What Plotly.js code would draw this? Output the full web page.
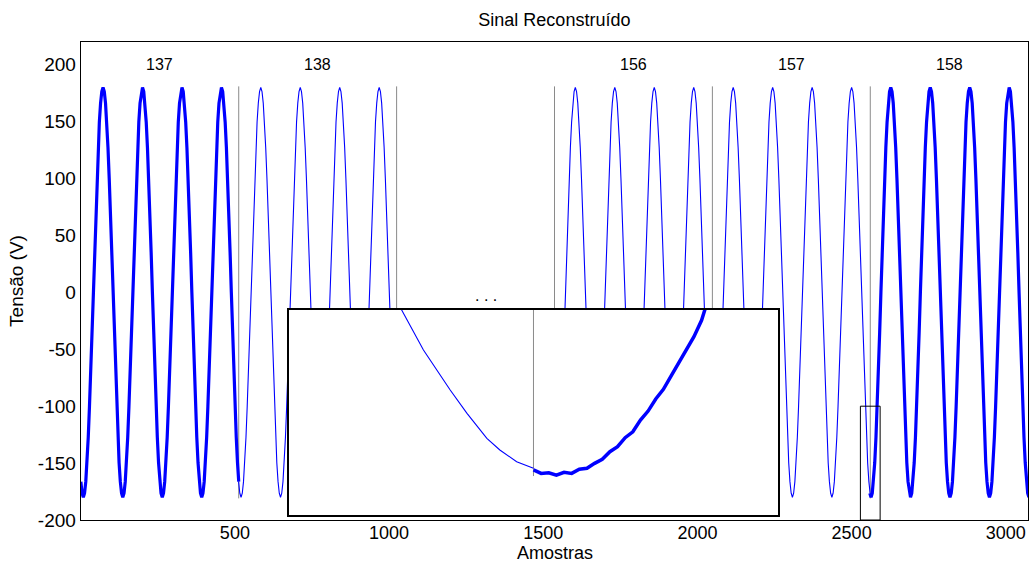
<!DOCTYPE html>
<html>
<head>
<meta charset="utf-8">
<script src="https://cdn.plot.ly/plotly-3.0.1.min.js"></script>
<style>html,body{margin:0;padding:0;background:#fff;}#chart{width:1032px;height:563px;}</style>
</head>
<body>
<div id="chart"></div>
<script>
// ---- data ----
const segLabels = ['137', '138', '156', '157', '158'];
const segStart = [1, 513, 1537, 2049, 2561];
const segEnd = [512, 1024, 2048, 2560, 3072];
const segTrough = [8.5, 520, 1540, 2052, 2563];      // sample position of first trough in each segment
const segThick = [true, false, false, false, true];
// one period (128 samples) of the waveform, read every 4 samples starting at a trough
const cycleValues = [-180, -176.5, -166.3, -149.7, -127.3, -100, -68.9, -35.1, 0, 35.1, 68.9, 100, 127.3, 149.7, 166.3, 176.5,
                     180, 176.5, 166.3, 149.7, 127.3, 100, 68.9, 35.1, 0, -35.1, -68.9, -100, -127.3, -149.7, -166.3, -176.5];
const cycleStep = 4;
const boundaryX = [512.5, 1024.5, 1536.5, 2048.5, 2560.5];
const boundaryY = [-181, 181];
const labelX = [256, 768, 1792, 2304, 2816];
const labelY = 200;
const gapLabel = '. . .';
const gapX = 1314, gapY = -3;
// zoom window
const zoomX = [2528.5, 2592.5];
const zoomY = [-200, -100];
// inset detail (read from the enlarged view)
const insetThinX = [2540.5, 2543.25, 2546.1, 2549.6, 2551.8, 2554.4, 2556.1, 2558.3, 2560.5];
const insetThinY = [-84, -100, -119.5, -139, -150.4, -162.6, -168.3, -174, -177.2];
const insetThickX = [2560.5, 2561.5, 2562.5, 2563.5, 2564.5, 2565.5, 2566.5, 2567.5, 2568.5, 2569.5, 2570.5, 2571.5, 2572.5,
                     2573.5, 2574.5, 2575.5, 2576.5, 2577.5, 2578.5, 2579.5, 2580.5, 2581.5, 2582.5, 2583.5];
const insetThickY = [-178, -179.7, -179.4, -180.6, -179.2, -179.7, -177.7, -177.2, -174.8, -172.8, -169.1, -166.7, -162.3,
                     -159.4, -153.7, -149.3, -143.4, -138.7, -132.2, -126, -119.5, -113, -105, -93];

const xTicks = [500, 1000, 1500, 2000, 2500, 3000];
const yTicks = [-200, -150, -100, -50, 0, 50, 100, 150, 200];

// ---- build traces ----
const BLUE = '#0000ff';
const FONT = 'Liberation Sans, Arial, sans-serif';
const traces = [];

for (let s = 0; s < segLabels.length; s++) {
  const xs = [], ys = [];
  const kMin = Math.floor((segStart[s] - segTrough[s]) / cycleStep) ;
  const kMax = Math.ceil((segEnd[s] - segTrough[s]) / cycleStep);
  for (let k = kMin; k <= kMax; k++) {
    const xv = segTrough[s] + k * cycleStep;
    const idx = ((k % cycleValues.length) + cycleValues.length) % cycleValues.length;
    xs.push(xv);
    ys.push(cycleValues[idx]);
  }
  traces.push({
    x: xs, y: ys, type: 'scatter', mode: 'lines', xaxis: 'x', yaxis: 'y',
    line: {color: BLUE, width: segThick[s] ? 3.2 : 1.1}, hoverinfo: 'skip', showlegend: false
  });
}

// boundary lines
const bx = [], by = [];
boundaryX.forEach(v => { bx.push(v, v, null); by.push(boundaryY[0], boundaryY[1], null); });
traces.unshift({
  x: bx, y: by, type: 'scatter', mode: 'lines', xaxis: 'x', yaxis: 'y',
  line: {color: '#8a8a8a', width: 1}, hoverinfo: 'skip', showlegend: false
});

// inset traces
traces.push({
  x: [boundaryX[4], boundaryX[4]], y: [boundaryY[0], boundaryY[1]], type: 'scatter', mode: 'lines',
  xaxis: 'x2', yaxis: 'y2', line: {color: '#8a8a8a', width: 1}, hoverinfo: 'skip', showlegend: false
});
traces.push({
  x: insetThinX, y: insetThinY, type: 'scatter', mode: 'lines', xaxis: 'x2', yaxis: 'y2',
  line: {color: BLUE, width: 1.1}, hoverinfo: 'skip', showlegend: false
});
traces.push({
  x: insetThickX, y: insetThickY, type: 'scatter', mode: 'lines', xaxis: 'x2', yaxis: 'y2',
  line: {color: BLUE, width: 3.5}, hoverinfo: 'skip', showlegend: false
});

const annotations = segLabels.map((t, i) => ({
  x: labelX[i], y: labelY, xref: 'x', yref: 'y', text: t, showarrow: false,
  font: {family: FONT, size: 16, color: '#000'}
}));
annotations.push({x: gapX, y: gapY, xref: 'x', yref: 'y', text: gapLabel, showarrow: false,
  font: {family: FONT, size: 16, color: '#000'}});
// x-axis title placed at the bottom edge of the figure
annotations.push({x: 0.5, y: -43.5 / 478, xref: 'paper', yref: 'paper', xanchor: 'center', yanchor: 'bottom',
  text: 'Amostras', showarrow: false, borderpad: 0, font: {family: FONT, size: 18, color: '#000'}});

const layout = {
  width: 1032, height: 563,
  margin: {l: 81, r: 4, t: 42, b: 43},
  paper_bgcolor: '#fff', plot_bgcolor: '#fff',
  font: {family: FONT, color: '#000'},
  showlegend: false,
  title: {text: 'Sinal Reconstruído', font: {family: FONT, size: 18, color: '#000'},
          x: 0.5372, xanchor: 'center', y: 1 - 20 / 563, yanchor: 'middle'},
  xaxis: {
    range: [1, 3072], tickvals: xTicks, ticktext: xTicks.map(String),
    showline: true, mirror: true, linecolor: '#000', linewidth: 1.3,
    showgrid: false, zeroline: false, ticks: '', ticklabelstandoff: -4,
    tickfont: {family: FONT, size: 18, color: '#000'}
  },
  yaxis: {
    range: [-200, 220], tickvals: yTicks, ticktext: yTicks.map(String),
    showline: true, mirror: true, linecolor: '#000', linewidth: 1.3,
    showgrid: false, zeroline: false, ticks: '',
    tickfont: {family: FONT, size: 19, color: '#000'},
    title: {text: 'Tensão (V)', font: {family: FONT, size: 19, color: '#000'}, standoff: 9}
  },
  xaxis2: {
    domain: [0.2196, 0.7360], anchor: 'y2', range: zoomX,
    showline: true, mirror: true, linecolor: '#000', linewidth: 1.6,
    showgrid: false, zeroline: false, ticks: '', showticklabels: false
  },
  yaxis2: {
    domain: [0.01046, 0.4393], anchor: 'x2', range: zoomY,
    showline: true, mirror: true, linecolor: '#000', linewidth: 1.6,
    showgrid: false, zeroline: false, ticks: '', showticklabels: false
  },
  shapes: [{
    type: 'rect', xref: 'x', yref: 'y', x0: zoomX[0], x1: zoomX[1], y0: zoomY[0], y1: zoomY[1],
    line: {color: '#000', width: 1}, fillcolor: 'rgba(0,0,0,0)', layer: 'above'
  }],
  annotations: annotations
};

Plotly.newPlot('chart', traces, layout, {displayModeBar: false, staticPlot: true});
</script>
</body>
</html>
